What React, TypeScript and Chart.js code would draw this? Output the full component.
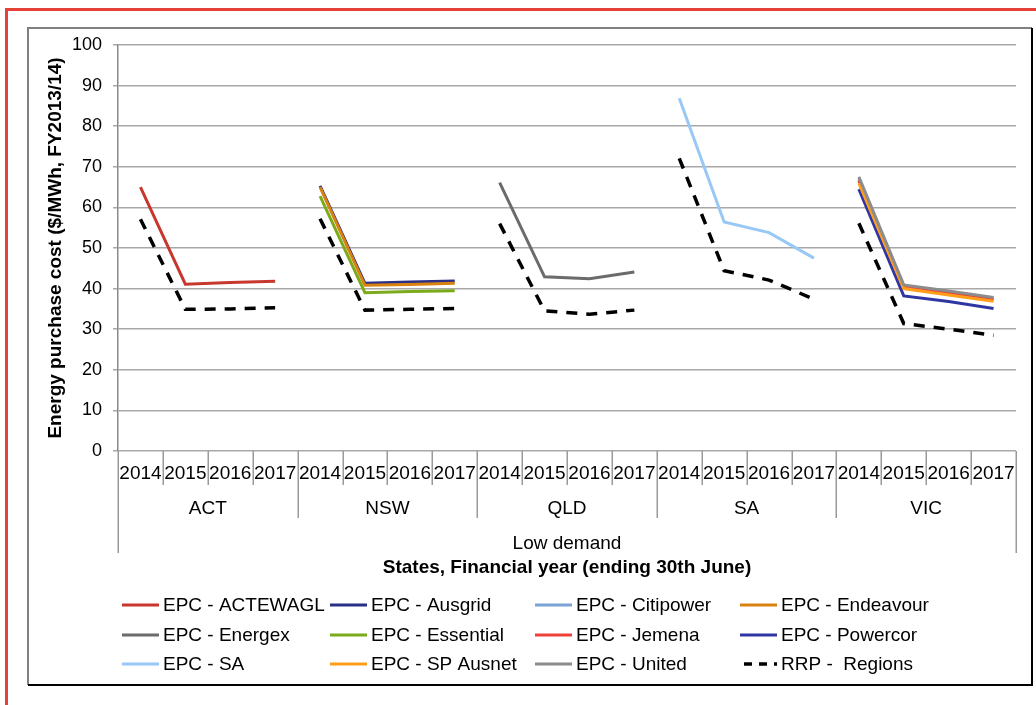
import { useEffect, useRef } from 'react';
import { Chart, registerables } from 'chart.js';

Chart.register(...registerables);

const FONT = "'Liberation Sans', Arial, sans-serif";

// Category axis: financial years nested inside states
const years = ['2014', '2015', '2016', '2017'];
const states = ['ACT', 'NSW', 'QLD', 'SA', 'VIC'];
const groupLabel = 'Low demand';
const xTitle = 'States, Financial year (ending 30th June)';
const yTitle = 'Energy purchase cost ($/MWh, FY2013/14)';

// Energy purchase cost per retailer (2014..2017), $/MWh
const epcActewagl = [65.0, 41.1, 41.5, 41.8]; // ACT
const epcAusgrid = [65.3, 41.3, 41.6, 41.9]; // NSW
const epcEndeavour = [65.0, 40.8, 41.0, 41.3]; // NSW
const epcEssential = [62.8, 39.0, 39.3, 39.5]; // NSW
const epcEnergex = [66.1, 42.9, 42.4, 44.1]; // QLD
const epcSa = [86.9, 56.4, 53.8, 47.5]; // SA
const epcCitipower = [67.0, 40.6, 39.0, 37.5]; // VIC
const epcJemena = [66.6, 40.4, 38.8, 37.3]; // VIC
const epcPowercor = [64.5, 38.2, 36.8, 35.1]; // VIC
const epcSpAusnet = [66.0, 40.0, 38.4, 36.9]; // VIC
const epcUnited = [67.5, 40.9, 39.4, 37.8]; // VIC

// Regional reference price, every state in axis order
const rrpRegions = [
  57.1, 34.9, 35.0, 35.3,
  57.2, 34.7, 34.9, 35.1,
  56.0, 34.5, 33.7, 34.7,
  72.1, 44.4, 42.1, 37.4,
  56.1, 31.4, 30.0, 28.5,
];

const categories = states.flatMap(() => years);

const inState = (state: string, values: number[]) => {
  const out: (number | null)[] = categories.map(() => null);
  const s = states.indexOf(state);
  values.forEach((v, i) => {
    out[s * 4 + i] = v;
  });
  return out;
};

const series = [
  { label: 'EPC - ACTEWAGL', state: 'ACT', values: epcActewagl, color: '#c8372d' },
  { label: 'EPC - Ausgrid', state: 'NSW', values: epcAusgrid, color: '#2b2f85' },
  { label: 'EPC - Citipower', state: 'VIC', values: epcCitipower, color: '#7ba3d6' },
  { label: 'EPC - Endeavour', state: 'NSW', values: epcEndeavour, color: '#d9820f' },
  { label: 'EPC - Energex', state: 'QLD', values: epcEnergex, color: '#6b6b6b' },
  { label: 'EPC - Essential', state: 'NSW', values: epcEssential, color: '#7baa1b' },
  { label: 'EPC - Jemena', state: 'VIC', values: epcJemena, color: '#ee4038' },
  { label: 'EPC - Powercor', state: 'VIC', values: epcPowercor, color: '#2f36a3' },
  { label: 'EPC - SA', state: 'SA', values: epcSa, color: '#98c8f5' },
  { label: 'EPC - SP Ausnet', state: 'VIC', values: epcSpAusnet, color: '#ff9e1b' },
  { label: 'EPC - United', state: 'VIC', values: epcUnited, color: '#8c8c8c' },
];

const RRP_DASH = [11, 9];

const buildDatasets = () => {
  const total = series.length + 1;
  const list: any[] = series.map((s, i) => ({
    label: s.label,
    data: inState(s.state, s.values),
    borderColor: s.color,
    backgroundColor: s.color,
    borderWidth: 3,
    spanGaps: false,
    order: total - i,
  }));
  list.push({
    label: 'RRP -  Regions',
    data: rrpRegions,
    borderColor: '#000000',
    backgroundColor: '#000000',
    borderWidth: 3.5,
    borderDash: RRP_DASH,
    order: 0,
    segment: {
      // no joining line between one state's 2017 and the next state's 2014
      borderColor: (ctx: any) => (ctx.p0DataIndex % 4 === 3 ? 'rgba(0,0,0,0)' : undefined),
    },
  });
  return list;
};

const framePlugin = {
  id: 'frameAndAxisDecor',
  beforeDraw(chart: any) {
    const { ctx, width, height } = chart;
    ctx.save();
    ctx.fillStyle = '#ffffff';
    ctx.fillRect(0, 0, width, height);
    // outer red border
    ctx.fillStyle = '#e5413a';
    ctx.fillRect(5, 8, width - 5, 3);
    ctx.fillRect(5, 8, 3, height - 8);
    // chart frame
    ctx.lineWidth = 2;
    ctx.strokeStyle = '#808080';
    ctx.beginPath();
    ctx.moveTo(28, 685);
    ctx.lineTo(28, 28);
    ctx.lineTo(1032, 28);
    ctx.stroke();
    ctx.strokeStyle = '#000000';
    ctx.beginPath();
    ctx.moveTo(1032, 28);
    ctx.lineTo(1032, 685);
    ctx.lineTo(28, 685);
    ctx.stroke();
    ctx.restore();
  },
  afterDraw(chart: any) {
    const { ctx, chartArea } = chart;
    const xs = chart.scales.x;
    const n = categories.length;
    const catW = (chartArea.right - chartArea.left) / n;
    const base = chartArea.bottom;
    ctx.save();

    // multi-level category tick marks
    ctx.strokeStyle = '#9a9a9a';
    ctx.lineWidth = 1.5;
    for (let i = 0; i <= n; i++) {
      const x = Math.round(chartArea.left + i * catW) + 0.25;
      let len = 34;
      if (i === 0 || i === n) len = 102;
      else if (i % 4 === 0) len = 67;
      ctx.beginPath();
      ctx.moveTo(x, base);
      ctx.lineTo(x, base + len);
      ctx.stroke();
    }

    ctx.fillStyle = '#000000';
    ctx.textAlign = 'center';
    ctx.textBaseline = 'middle';

    ctx.font = `19px ${FONT}`;
    categories.forEach((label, i) => {
      ctx.fillText(label, xs.getPixelForValue(i), base + 23);
    });
    states.forEach((s, si) => {
      const mid = (xs.getPixelForValue(si * 4) + xs.getPixelForValue(si * 4 + 3)) / 2;
      ctx.fillText(s, mid, base + 58);
    });
    const center = (chartArea.left + chartArea.right) / 2;
    ctx.fillText(groupLabel, center, base + 93);
    ctx.font = `bold 19px ${FONT}`;
    ctx.fillText(xTitle, center, base + 117);

    // y axis title
    ctx.save();
    ctx.translate(56, (chartArea.top + chartArea.bottom) / 2 + 0);
    ctx.rotate(-Math.PI / 2);
    ctx.font = `bold 19px ${FONT}`;
    ctx.fillText(yTitle, 0, 0);
    ctx.restore();

    // legend: 4 columns x 3 rows
    const colX = [122, 330, 535, 740];
    const rowY = [605, 635, 664];
    const datasets = chart.data.datasets;
    ctx.font = `19px ${FONT}`;
    ctx.textAlign = 'left';
    datasets.forEach((ds: any, i: number) => {
      const x = colX[i % 4];
      const y = rowY[Math.floor(i / 4)];
      ctx.save();
      ctx.strokeStyle = ds.borderColor;
      ctx.lineWidth = ds.borderWidth;
      if (ds.borderDash) {
        ctx.setLineDash([8, 7]);
        ctx.lineDashOffset = -4;
      }
      ctx.beginPath();
      ctx.moveTo(x, y);
      ctx.lineTo(x + 37, y);
      ctx.stroke();
      ctx.restore();
      ctx.fillText(ds.label, x + 41, y + 1);
    });
    ctx.restore();
  },
};

export default function App() {
  const canvasRef = useRef<HTMLCanvasElement>(null);

  useEffect(() => {
    const canvas = canvasRef.current;
    if (!canvas) return;
    const chart = new Chart(canvas, {
      type: 'line',
      data: { labels: categories, datasets: buildDatasets() },
      options: {
        responsive: false,
        animation: false,
        devicePixelRatio: 1,
        layout: { padding: { top: 45, right: 20, left: 0, bottom: 0 } },
        plugins: {
          legend: { display: false },
          tooltip: { enabled: false },
          title: { display: false },
        },
        elements: {
          point: { radius: 0, hoverRadius: 0 },
          line: { tension: 0, borderCapStyle: 'butt', borderJoinStyle: 'miter' },
        },
        scales: {
          x: {
            type: 'category',
            offset: true,
            grid: { display: false, drawTicks: false },
            border: { display: false },
            ticks: { display: false },
            afterFit: (scale: any) => {
              scale.height = 254;
            },
          },
          y: {
            min: 0,
            max: 100,
            ticks: {
              stepSize: 10,
              padding: 11,
              color: '#000000',
              font: { family: FONT, size: 18 },
            },
            grid: { color: '#a8a8a8', lineWidth: 1.5, tickLength: 5 },
            border: { color: '#8a8a8a', width: 1.5 },
            afterFit: (scale: any) => {
              scale.width = 118;
            },
          },
        },
      } as any,
      plugins: [framePlugin],
    });
    return () => chart.destroy();
  }, []);

  return (
    <div style={{ position: 'fixed', left: 0, top: 0, width: 1036, height: 705, background: '#fff' }}>
      <canvas ref={canvasRef} width={1036} height={705} style={{ display: 'block' }} />
    </div>
  );
}
